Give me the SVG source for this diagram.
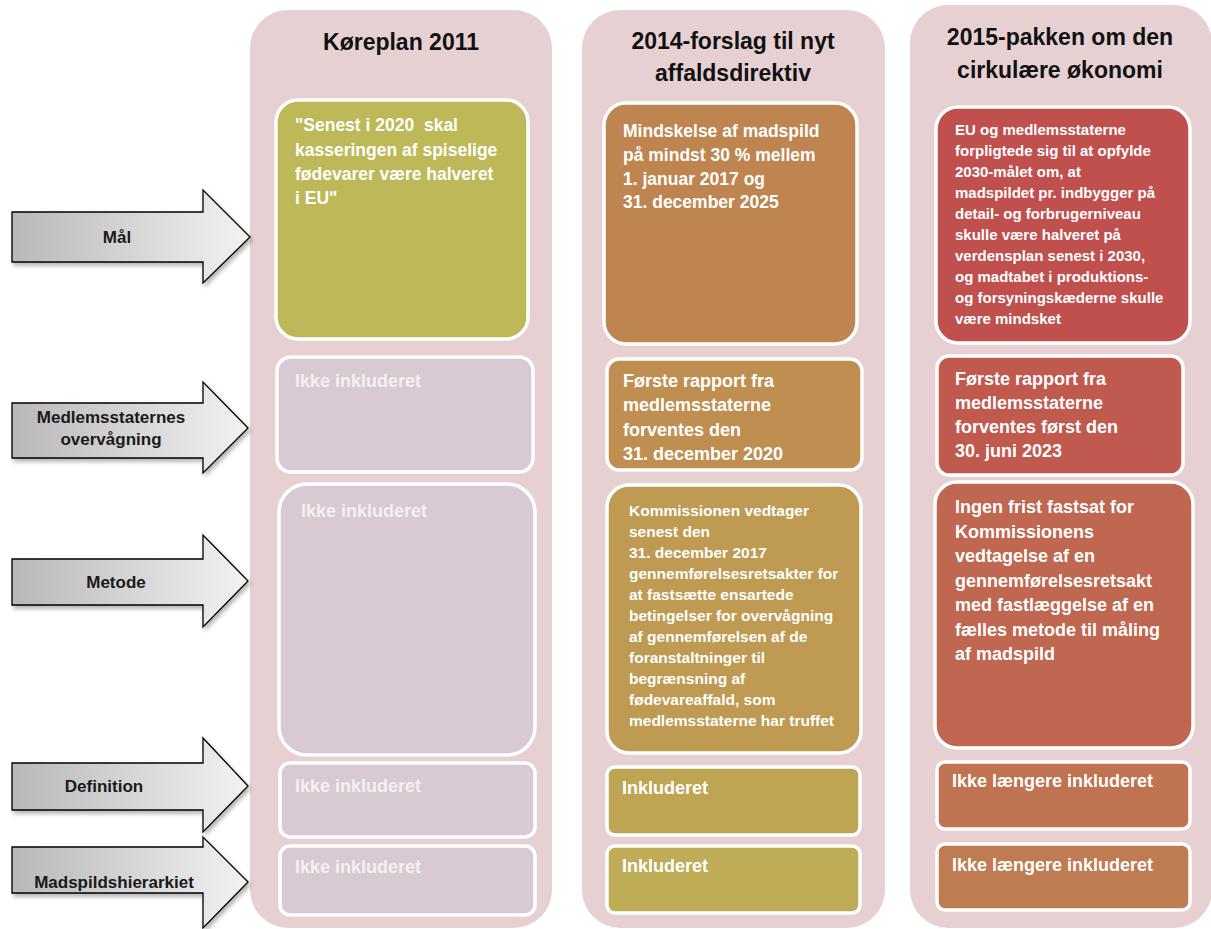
<svg xmlns="http://www.w3.org/2000/svg" width="1211" height="929" viewBox="0 0 1211 929">
<defs>
<linearGradient id="arrowGrad" x1="0" y1="0" x2="1" y2="0">
<stop offset="0" stop-color="#B8B8B8"/>
<stop offset="1" stop-color="#F2F2F2"/>
</linearGradient>
<filter id="shadow" x="-10%" y="-10%" width="130%" height="140%">
<feDropShadow dx="2" dy="3" stdDeviation="2" flood-color="#000" flood-opacity="0.3"/>
</filter>
</defs>
<style>
.col{fill:#E7D0D2}
.box{stroke:#FFFFFF;stroke-width:3.5}
.hdr{font-family:"Liberation Sans",Arial,sans-serif;font-weight:bold;font-size:23px;fill:#111;text-anchor:middle}
.arrow{fill:url(#arrowGrad);stroke:#000;stroke-width:1.3;filter:url(#shadow)}
.alb{font-family:"Liberation Sans",Arial,sans-serif;font-weight:bold;font-size:17px;fill:#1A1A1A;text-anchor:middle}
.t{font-family:"Liberation Sans",Arial,sans-serif;font-weight:bold;fill:#FFFFFF}
.tm{font-family:"Liberation Sans",Arial,sans-serif;font-weight:bold;fill:#F4EFF2;font-size:18px}
.mauve{fill:#D8CAD3}
</style>
<rect width="1211" height="929" fill="#FFFFFF"/>

<g id="columns">
<rect class="col" x="250" y="10" width="302" height="918" rx="38"/>
<rect class="col" x="582" y="10" width="303" height="918" rx="38"/>
<rect class="col" x="910" y="5" width="302" height="923" rx="38"/>
</g>

<g id="headers">
<text class="hdr" x="401" y="50">Køreplan 2011</text>
<text class="hdr" x="733" y="49">2014-forslag til nyt</text>
<text class="hdr" x="733" y="81">affaldsdirektiv</text>
<text class="hdr" x="1060" y="45">2015-pakken om den</text>
<text class="hdr" x="1060" y="78">cirkulære økonomi</text>
</g>

<g id="connectors">
<g id="arrow-maal">
<path class="arrow" d="M12,212 L203,212 L203,190 L250,237 L203,283 L203,262 L12,262 Z"/>
<text class="alb" x="117" y="243">Mål</text>
</g>
<g id="arrow-overvaagning">
<path class="arrow" d="M12,403 L203,403 L203,382 L248,428 L203,473 L203,458 L12,458 Z"/>
<text class="alb" x="111" y="423">Medlemsstaternes</text>
<text class="alb" x="111" y="445">overvågning</text>
</g>
<g id="arrow-metode">
<path class="arrow" d="M12,559 L203,559 L203,535 L248,581 L203,627 L203,605 L12,605 Z"/>
<text class="alb" x="116" y="588">Metode</text>
</g>
<g id="arrow-definition">
<path class="arrow" d="M12,763 L203,763 L203,738 L248,786 L203,832 L203,810 L12,810 Z"/>
<text class="alb" x="104" y="792">Definition</text>
</g>
<g id="arrow-hierarki">
<path class="arrow" d="M12,847 L203,847 L203,837 L248,882 L203,928 L203,893 L12,893 Z"/>
<text class="alb" x="114" y="888">Madspildshierarkiet</text>
</g>
</g>

<g id="c1-maal">
<rect class="box" x="276" y="100" width="252" height="239" rx="22" fill="#BDB858"/>
<text class="t" font-size="17.5" x="295" xml:space="preserve"><tspan x="295" y="131">"Senest i 2020  skal</tspan><tspan x="295" y="155.5">kasseringen af spiselige</tspan><tspan x="295" y="180">fødevarer være halveret</tspan><tspan x="295" y="204">i EU"</tspan></text>
</g>
<g id="c1-overvaagning">
<rect class="box mauve" x="277" y="357" width="256" height="115" rx="14"/>
<text class="tm" x="295" y="387">Ikke inkluderet</text>
</g>
<g id="c1-metode">
<rect class="box mauve" x="279" y="484" width="256" height="271" rx="28"/>
<text class="tm" x="301" y="517">Ikke inkluderet</text>
</g>
<g id="c1-definition">
<rect class="box mauve" x="280" y="763" width="255" height="74" rx="10"/>
<text class="tm" x="295" y="792">Ikke inkluderet</text>
</g>
<g id="c1-hierarki">
<rect class="box mauve" x="280" y="846" width="255" height="69" rx="10"/>
<text class="tm" x="295" y="873">Ikke inkluderet</text>
</g>

<g id="c2-maal">
<rect class="box" x="604" y="103" width="253" height="241" rx="22" fill="#BF8550"/>
<text class="t" font-size="17.5"><tspan x="623" y="137">Mindskelse af madspild</tspan><tspan x="623" y="160.8">på mindst 30 % mellem</tspan><tspan x="623" y="184.6">1. januar 2017 og</tspan><tspan x="623" y="208.4">31. december 2025</tspan></text>
</g>
<g id="c2-overvaagning">
<rect class="box" x="607" y="359" width="255" height="111" rx="12" fill="#BF8F51"/>
<text class="t" font-size="18"><tspan x="623" y="387">Første rapport fra</tspan><tspan x="623" y="411">medlemsstaterne</tspan><tspan x="623" y="435.5">forventes den</tspan><tspan x="623" y="460">31. december 2020</tspan></text>
</g>
<g id="c2-metode">
<rect class="box" x="607" y="485" width="254" height="268" rx="22" fill="#BE9A52"/>
<text class="t" font-size="15.5"><tspan x="629" y="516">Kommissionen vedtager</tspan><tspan x="629" y="537">senest den</tspan><tspan x="629" y="558">31. december 2017</tspan><tspan x="629" y="579">gennemførelsesretsakter for</tspan><tspan x="629" y="600">at fastsætte ensartede</tspan><tspan x="629" y="621">betingelser for overvågning</tspan><tspan x="629" y="642">af gennemførelsen af de</tspan><tspan x="629" y="663">foranstaltninger til</tspan><tspan x="629" y="684">begrænsning af</tspan><tspan x="629" y="705">fødevareaffald, som</tspan><tspan x="629" y="726">medlemsstaterne har truffet</tspan></text>
</g>
<g id="c2-definition">
<rect class="box" x="607" y="767" width="253" height="68" rx="8" fill="#BEA554"/>
<text class="t" font-size="18" x="622" y="794">Inkluderet</text>
</g>
<g id="c2-hierarki">
<rect class="box" x="607" y="846" width="253" height="67" rx="8" fill="#BEAD56"/>
<text class="t" font-size="18" x="622" y="872">Inkluderet</text>
</g>

<g id="c3-maal">
<rect class="box" x="936" y="107" width="254" height="236" rx="22" fill="#C0504E"/>
<text class="t" font-size="15"><tspan x="955" y="135">EU og medlemsstaterne</tspan><tspan x="955" y="156">forpligtede sig til at opfylde</tspan><tspan x="955" y="177">2030-målet om, at</tspan><tspan x="955" y="198">madspildet pr. indbygger på</tspan><tspan x="955" y="219">detail- og forbrugerniveau</tspan><tspan x="955" y="240">skulle være halveret på</tspan><tspan x="955" y="261">verdensplan senest i 2030,</tspan><tspan x="955" y="282">og madtabet i produktions-</tspan><tspan x="955" y="303">og forsyningskæderne skulle</tspan><tspan x="955" y="324">være mindsket</tspan></text>
</g>
<g id="c3-overvaagning">
<rect class="box" x="937" y="356" width="246" height="119" rx="12" fill="#C05A4F"/>
<text class="t" font-size="18"><tspan x="955" y="385">Første rapport fra</tspan><tspan x="955" y="409">medlemsstaterne</tspan><tspan x="955" y="433">forventes først den</tspan><tspan x="955" y="457">30. juni 2023</tspan></text>
</g>
<g id="c3-metode">
<rect class="box" x="935" y="482" width="258" height="266" rx="22" fill="#BF6750"/>
<text class="t" font-size="18"><tspan x="955" y="513">Ingen frist fastsat for</tspan><tspan x="955" y="537.5">Kommissionens</tspan><tspan x="955" y="562">vedtagelse af en</tspan><tspan x="955" y="586.5">gennemførelsesretsakt</tspan><tspan x="955" y="611">med fastlæggelse af en</tspan><tspan x="955" y="635.5">fælles metode til måling</tspan><tspan x="955" y="660">af madspild</tspan></text>
</g>
<g id="c3-definition">
<rect class="box" x="937" y="762" width="253" height="67" rx="8" fill="#BF7350"/>
<text class="t" font-size="18" x="952" y="787">Ikke længere inkluderet</text>
</g>
<g id="c3-hierarki">
<rect class="box" x="937" y="844" width="253" height="66" rx="8" fill="#BF7B51"/>
<text class="t" font-size="18" x="952" y="871">Ikke længere inkluderet</text>
</g>
</svg>
